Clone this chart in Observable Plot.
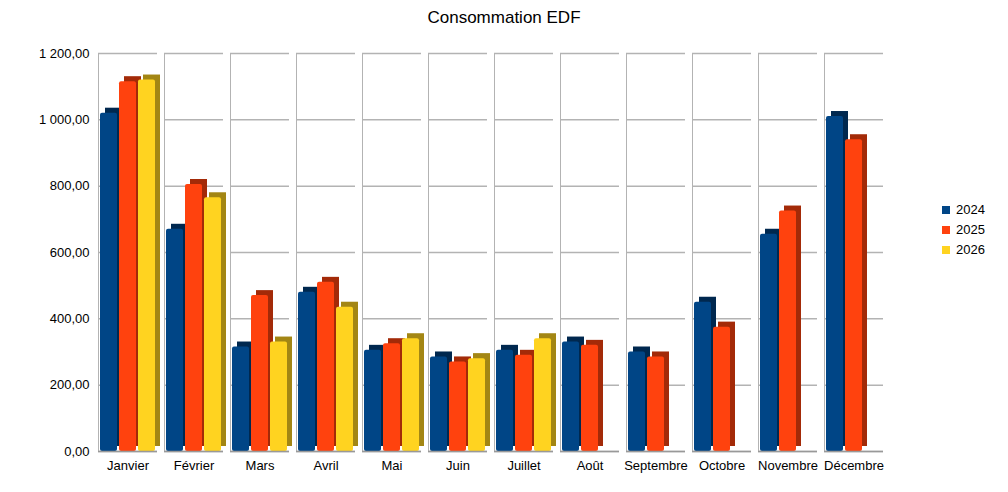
<!DOCTYPE html>
<html><head><meta charset="utf-8">
<script src="https://cdn.jsdelivr.net/npm/d3@7"></script>
<script src="https://cdn.jsdelivr.net/npm/@observablehq/plot@0.6"></script>
<style>
body{margin:0;background:#fff;font-family:"Liberation Sans",Arial,sans-serif;}
#wrap{position:relative;width:1008px;height:492px;}
#title{position:absolute;top:8px;width:1008px;text-align:center;font-size:17px;}
#chart{position:absolute;top:32px;left:0;}
#legend{position:absolute;left:942px;top:200px;font-size:13px;line-height:20px;}
#legend span.sw{display:inline-block;width:8px;height:8px;margin-right:6px;}
</style></head><body>
<div id="wrap"><div id="title">Consommation EDF</div><div id="chart"></div><div id="legend"></div></div>
<script>
const months = ["Janvier","Février","Mars","Avril","Mai","Juin","Juillet","Août","Septembre","Octobre","Novembre","Décembre"];
const years = ["2024","2025","2026"];
const v2024 = [1020,670,315,480,305,285,305,330,300,450,655,1010];
const v2025 = [1115,805,470,510,325,270,290,320,285,375,725,940];
const v2026 = [1120,765,330,435,340,280,340,null,null,null,null,null];
const colors = ["#004586","#ff420e","#ffd320"];
const dark = ["#00284f","#a32a08","#a38614"];
const series = [v2024,v2025,v2026];
const data = [];
months.forEach((m,i)=>years.forEach((y,j)=>{ if(series[j][i]!=null) data.push({month:m,year:y,value:series[j][i]}); }));
const loc = d3.formatLocale({decimal:",",thousands:"\u00a0",grouping:[3],currency:["","€"]});
const fmt = loc.format(",.2f");
const chart = Plot.plot({
  width:1008, height:460, marginTop:21, marginBottom:41, marginLeft:93, marginRight:120,
  style:{fontFamily:"Liberation Sans, Arial, sans-serif", fontSize:"13px", color:"#000"},
  fx:{domain:months, label:null, padding:0.1, axis:"bottom", tickSize:0},
  x:{domain:years, axis:null, padding:0.08},
  y:{domain:[0,1200], ticks:[0,200,400,600,800,1000,1200], tickFormat:fmt, label:null, tickSize:0, grid:false},
  color:{domain:years, range:colors},
  marks:[
    Plot.ruleY([0,200,400,600,800,1000,1200],{stroke:"#b3b3b3", strokeWidth:1.5}),
    Plot.frame({anchor:"left", stroke:"#b3b3b3"}),
    Plot.barY(data,{fx:"month", x:"year", y:"value", fill:d=>dark[years.indexOf(d.year)], dx:5, dy:-5}),
    Plot.barY(data,{fx:"month", x:"year", y:"value", fill:"year", rx:2}),
    Plot.ruleY([0],{stroke:"#999", strokeWidth:1.5})
  ]
});
document.getElementById("chart").appendChild(chart);
document.getElementById("legend").innerHTML = years.map((y,i)=>`<div><span class="sw" style="background:${colors[i]}"></span>${y}</div>`).join("");
</script></body></html>
